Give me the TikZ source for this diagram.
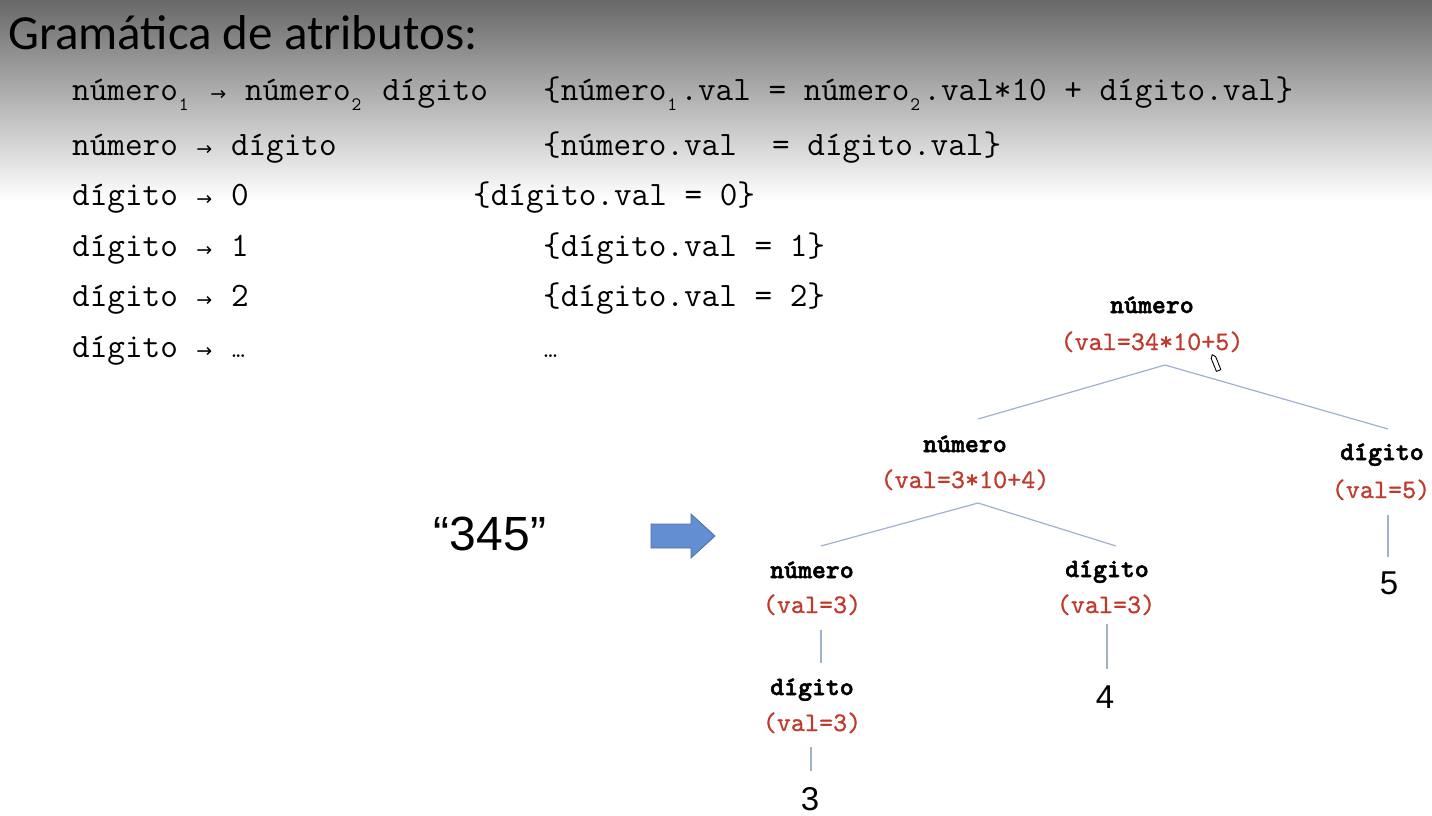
\documentclass[tikz,border=0pt]{standalone}
\usepackage{fontspec}
\newfontfamily\titlefont{Carlito}
\newfontfamily\digitfont{Liberation Sans}
\newfontfamily\symbolfont{DejaVu Sans}
\newfontfamily\ntfont{lmmonolt10-bold}[Extension=.otf, FakeBold=2]
\newfontfamily\attrfont{lmmono10-regular}[Extension=.otf, FakeBold=0.8]
\definecolor{valred}{RGB}{192,57,43}
\definecolor{edgeblue}{RGB}{158,178,208}
\definecolor{arrowfill}{RGB}{98,142,210}
\definecolor{arrowline}{RGB}{72,112,178}
\definecolor{topgray}{RGB}{104,104,104}
% subscript index, arrow and ellipsis sized to the monospaced grid
\newcommand\idx[1]{\makebox[14pt][l]{\kern1pt\raisebox{-10pt}{\fontsize{19}{19}\selectfont #1}}}
\newcommand\rarr{\makebox[17.9pt]{\symbolfont\fontsize{19}{19}\selectfont →}}
\newcommand\elip{\makebox[17.9pt][l]{\rmfamily\fontsize{19}{19}\selectfont\bfseries .\kern-1.5pt.\kern-1.5pt.}}
\tikzset{
  gram/.style={anchor=base west, inner sep=0pt, font=\ttfamily\fontsize{34.2}{40}\selectfont},
  nt/.style={anchor=base, inner sep=0pt, font=\ntfont\fontsize{26.5}{30}\selectfont},
  attr/.style={anchor=base, inner sep=0pt, text=valred, font=\attrfont\fontsize{26.8}{30}\selectfont},
  leaf/.style={anchor=base, inner sep=0pt, font=\digitfont\fontsize{33}{36}\selectfont},
  edge/.style={draw=edgeblue, line width=1.2pt}
}
\begin{document}
\begin{tikzpicture}[x=1pt, y=-1pt]
\useasboundingbox (0,0) rectangle (1432,816);
\clip (0,0) rectangle (1432,816);
\fill[white] (0,0) rectangle (1432,816);
% header fade
\shade[top color=topgray, bottom color=white] (0,0) rectangle (1432,200);

% title
\node[anchor=base west, inner sep=0pt, font=\titlefont\fontsize{49}{56}\selectfont] (title) at (8,50) {Gramática de atributos:};

% grammar rules
\node[gram] (r1l) at (72,100) {número\idx{1} \rarr{} número\idx{2} dígito};
\node[gram] (r1r) at (543,100) {\{número\idx{1}.val = número\idx{2}.val*10 + dígito.val\}};
\node[gram] (r2l) at (72,155) {número \rarr{} dígito};
\node[gram] (r2r) at (543,155) {\{número.val~~= dígito.val\}};
\node[gram] (r3l) at (72,205) {dígito \rarr{} 0};
\node[gram] (r3r) at (473,205) {\{dígito.val = 0\}};
\node[gram] (r4l) at (72,256) {dígito \rarr{} 1};
\node[gram] (r4r) at (543,256) {\{dígito.val = 1\}};
\node[gram] (r5l) at (72,306) {dígito \rarr{} 2};
\node[gram] (r5r) at (543,306) {\{dígito.val = 2\}};
\node[gram] (r6l) at (72,357) {dígito \rarr{} \elip};
\node[gram] (r6r) at (543,357) {\elip};

% input string and block arrow
\node[anchor=base, inner sep=0pt, font=\digitfont\fontsize{48}{52}\selectfont] (input) at (490,550) {“345”};
\draw[arrowline, fill=arrowfill, line width=0.8pt]
  (651,524) -- (691,524) -- (691,514) -- (715,536) -- (691,558) -- (691,548) -- (651,548) -- cycle;

% parse tree
\node[nt]   (n0)  at (1152,313) {número};
\node[attr] (n0v) at (1152,350) {(val=34*10+5)};
\node[nt]   (n1)  at (965,452) {número};
\node[attr] (n1v) at (965,488) {(val=3*10+4)};
\node[nt]   (d5)  at (1382,460) {dígito};
\node[attr] (d5v) at (1381,498) {(val=5)};
\node[leaf] (l5)  at (1389,594) {5};
\node[nt]   (n2)  at (812,578) {número};
\node[attr] (n2v) at (812,613) {(val=3)};
\node[nt]   (d4)  at (1107,577) {dígito};
\node[attr] (d4v) at (1106,613) {(val=3)};
\node[leaf] (l4)  at (1105,708) {4};
\node[nt]   (d3)  at (812,695) {dígito};
\node[attr] (d3v) at (812,731) {(val=3)};
\node[leaf] (l3)  at (810,810) {3};

\coordinate (n0b) at (1165,365);
\coordinate (n1t) at (978,419);
\coordinate (d5t) at (1388,429);
\coordinate (n1b) at (978,503);
\coordinate (n2t) at (821,546);
\coordinate (d4t) at (1116,546);
\coordinate (d5b) at (1388,515);
\coordinate (l5t) at (1388,557);
\coordinate (n2b) at (821,630);
\coordinate (d3t) at (821,663);
\coordinate (d3b) at (811,747);
\coordinate (l3t) at (811,771);
\coordinate (d4b) at (1107,624);
\coordinate (l4t) at (1107,669);

\draw[edge] (n1t) -- (n0b) -- (d5t);
\draw[edge] (n2t) -- (n1b) -- (d4t);
\draw[edge] (d5b) -- (l5t);
\draw[edge] (n2b) -- (d3t);
\draw[edge] (d3b) -- (l3t);
\draw[edge] (d4b) -- (l4t);

% pen cursor
\begin{scope}[shift={(1216,364)}, rotate=-68]
  \draw[black, line width=0.9pt, line join=round, fill=white]
    (-7,-2.4) -- (7,-2.4) -- (7,2.4) -- (-7,2.4) -- (-10,0) -- cycle;
\end{scope}
\end{tikzpicture}
\end{document}
